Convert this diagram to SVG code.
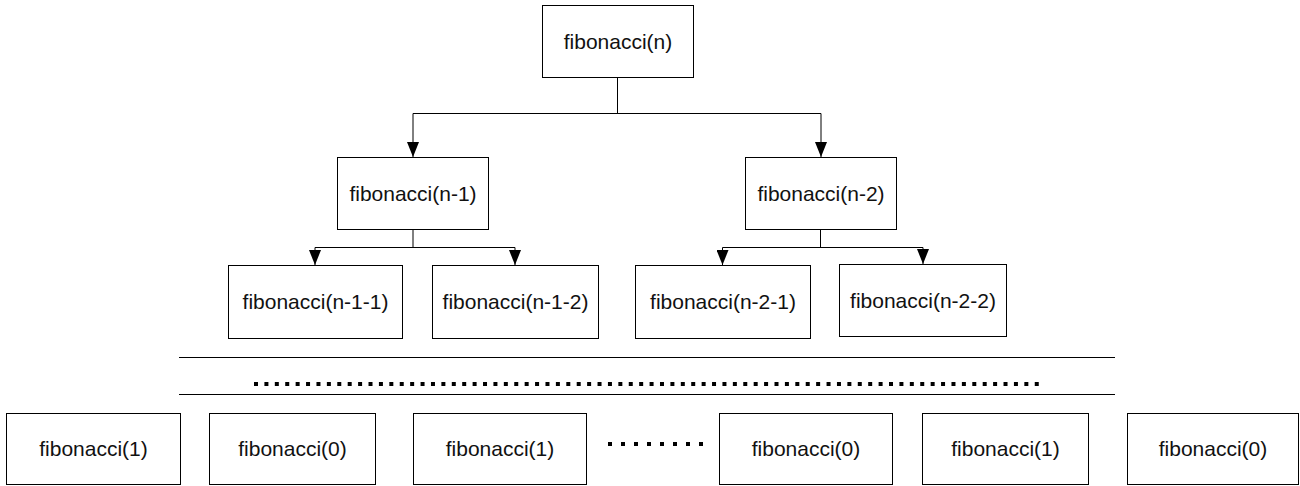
<svg xmlns="http://www.w3.org/2000/svg" width="1300" height="486" viewBox="0 0 1300 486">
  <style>
    .box { fill: #fff; stroke: #000; stroke-width: 1; }
    .lbl { font-family: "Liberation Sans", Arial, sans-serif; font-size: 21px; fill: #111; text-anchor: middle; dominant-baseline: central; }
    .wire { fill: none; stroke: #000; stroke-width: 1; }
    .sep { stroke: #000; stroke-width: 1; }
    .dots { stroke: #000; stroke-width: 4; }
  </style>
  <defs>
    <marker id="arrow" viewBox="0 0 15 12" refX="15" refY="6" markerWidth="15" markerHeight="12" markerUnits="userSpaceOnUse" orient="auto">
      <path d="M0,0 L15,6 L0,12 z" fill="#000"/>
    </marker>
  </defs>

  <!-- call tree connectors -->
  <g id="connectors">
    <path class="wire" d="M617.5,77 V113.5 M413,113.5 H821"/>
    <path class="wire" d="M413,113.5 V157" marker-end="url(#arrow)"/>
    <path class="wire" d="M821,113.5 V157" marker-end="url(#arrow)"/>

    <path class="wire" d="M413,229 V247.5 M315,247.5 H515"/>
    <path class="wire" d="M315,247.5 V265" marker-end="url(#arrow)"/>
    <path class="wire" d="M515,247.5 V265" marker-end="url(#arrow)"/>

    <path class="wire" d="M820.5,229 V247.5 M722.5,247.5 H923"/>
    <path class="wire" d="M722.5,247.5 V265" marker-end="url(#arrow)"/>
    <path class="wire" d="M923,247.5 V264" marker-end="url(#arrow)"/>
  </g>

  <!-- root -->
  <g id="fib-n">
    <rect class="box" x="542.5" y="5.5" width="151" height="72"/>
    <text class="lbl" x="618" y="41.5">fibonacci(n)</text>
  </g>

  <!-- second level -->
  <g id="fib-n-1">
    <rect class="box" x="337.5" y="157.5" width="151" height="72"/>
    <text class="lbl" x="413" y="193">fibonacci(n-1)</text>
  </g>
  <g id="fib-n-2">
    <rect class="box" x="745.5" y="157.5" width="151" height="72"/>
    <text class="lbl" x="821" y="193">fibonacci(n-2)</text>
  </g>

  <!-- third level -->
  <g id="fib-n-1-1">
    <rect class="box" x="228.5" y="265.5" width="174" height="73"/>
    <text class="lbl" x="315.5" y="301.5">fibonacci(n-1-1)</text>
  </g>
  <g id="fib-n-1-2">
    <rect class="box" x="432.5" y="265.5" width="166" height="73"/>
    <text class="lbl" x="515.5" y="301.5">fibonacci(n-1-2)</text>
  </g>
  <g id="fib-n-2-1">
    <rect class="box" x="635.5" y="265.5" width="175" height="73"/>
    <text class="lbl" x="723" y="301.5">fibonacci(n-2-1)</text>
  </g>
  <g id="fib-n-2-2">
    <rect class="box" x="839.5" y="264.5" width="167" height="72"/>
    <text class="lbl" x="923" y="300">fibonacci(n-2-2)</text>
  </g>

  <!-- elided middle levels -->
  <g id="ellipsis">
    <line class="sep" x1="179" y1="357.5" x2="1115" y2="357.5"/>
    <line class="dots" x1="254" y1="384" x2="1039" y2="384" stroke-dasharray="4 6.41"/>
    <line class="sep" x1="179" y1="394.5" x2="1115" y2="394.5"/>
  </g>

  <!-- base cases -->
  <g id="leaf-1">
    <rect class="box" x="6.5" y="413.5" width="174" height="71"/>
    <text class="lbl" x="93.5" y="448.5">fibonacci(1)</text>
  </g>
  <g id="leaf-2">
    <rect class="box" x="209.5" y="413.5" width="166" height="71"/>
    <text class="lbl" x="292.5" y="448.5">fibonacci(0)</text>
  </g>
  <g id="leaf-3">
    <rect class="box" x="413.5" y="413.5" width="173" height="71"/>
    <text class="lbl" x="500" y="448.5">fibonacci(1)</text>
  </g>
  <g id="leaf-gap">
    <line class="dots" x1="608" y1="444" x2="703" y2="444" stroke-dasharray="4 9"/>
  </g>
  <g id="leaf-4">
    <rect class="box" x="719.5" y="413.5" width="173" height="71"/>
    <text class="lbl" x="806" y="448.5">fibonacci(0)</text>
  </g>
  <g id="leaf-5">
    <rect class="box" x="922.5" y="413.5" width="166" height="71"/>
    <text class="lbl" x="1005.5" y="448.5">fibonacci(1)</text>
  </g>
  <g id="leaf-6">
    <rect class="box" x="1127.5" y="413.5" width="171" height="71"/>
    <text class="lbl" x="1213" y="448.5">fibonacci(0)</text>
  </g>
</svg>
